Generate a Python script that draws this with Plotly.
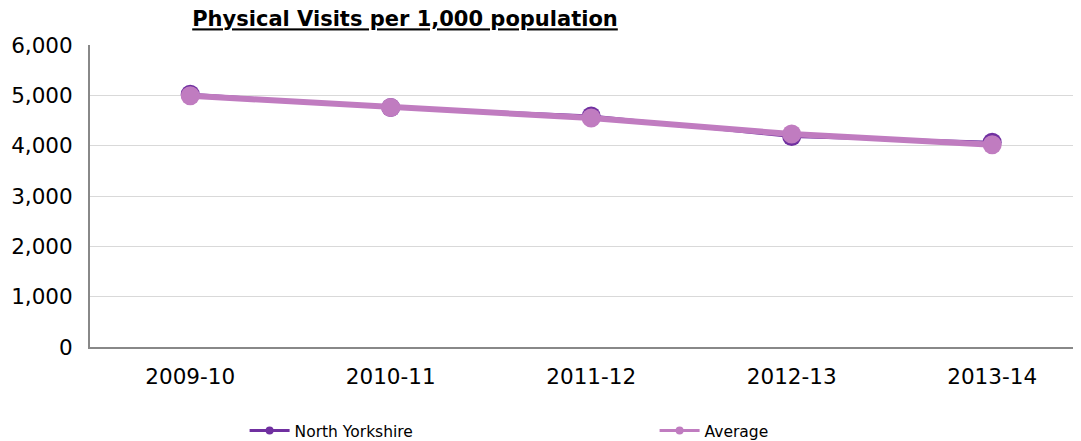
import plotly.graph_objects as go

years = ["2009-10", "2010-11", "2011-12", "2012-13", "2013-14"]
north_yorkshire = [5020, 4760, 4590, 4180, 4070]
average = [4990, 4760, 4550, 4230, 4020]
y_ticks = [0, 1000, 2000, 3000, 4000, 5000, 6000]

FONT = "Verdana, DejaVu Sans, sans-serif"
NY_COLOR = "#7030A0"
AVG_COLOR = "#C07CC0"

W, H = 1073, 433  # page body has an 8px margin

fig = go.Figure()
fig.add_trace(go.Scatter(
    x=years, y=north_yorkshire, name="North Yorkshire", mode="lines+markers",
    line=dict(color=NY_COLOR, width=3),
    marker=dict(color=NY_COLOR, size=19), showlegend=False,
))
fig.add_trace(go.Scatter(
    x=years, y=average, name="Average", mode="lines+markers",
    line=dict(color=AVG_COLOR, width=6),
    marker=dict(color=AVG_COLOR, size=19), showlegend=False,
))
# legend entries (smaller symbols as in the reference)
fig.add_trace(go.Scatter(
    x=[None], y=[None], name="North Yorkshire", mode="lines+markers",
    line=dict(color=NY_COLOR, width=3), marker=dict(color=NY_COLOR, size=8),
))
fig.add_trace(go.Scatter(
    x=[None], y=[None], name="Average", mode="lines+markers",
    line=dict(color=AVG_COLOR, width=3), marker=dict(color=AVG_COLOR, size=8),
))

fig.update_layout(
    width=W, height=H,
    margin=dict(l=82, r=0, t=37, b=94, autoexpand=False),
    paper_bgcolor="white", plot_bgcolor="white",
    font=dict(family=FONT, color="#000000"),
    title=dict(text="<b><u>Physical Visits per 1,000 population</u></b>",
               x=397 / W, xanchor="center", y=1 - 11 / H, yanchor="middle",
               font=dict(size=21, family=FONT, color="#000000"), automargin=False),
    showlegend=True,
    legend=dict(orientation="h", x=0.156, xanchor="left", y=-0.278, yanchor="middle",
                font=dict(size=15.5, family=FONT), entrywidth=355, entrywidthmode="pixels",
                itemwidth=40, bgcolor="rgba(0,0,0,0)"),
    xaxis=dict(
        type="category", range=[-0.5, 4.443], automargin=False,
        showgrid=False, showline=True, linecolor="#888888", linewidth=2,
        ticks="", tickfont=dict(size=21.5), ticklabelstandoff=9,
    ),
    yaxis=dict(
        range=[0, 6000], tickvals=y_ticks, tickformat=",", automargin=False,
        showgrid=True, gridcolor="#d9d9d9", gridwidth=1,
        showline=True, linecolor="#888888", linewidth=2,
        ticks="", tickfont=dict(size=21.5), ticklabelstandoff=11,
        zeroline=False,
    ),
)

fig.write_html("out.html")
